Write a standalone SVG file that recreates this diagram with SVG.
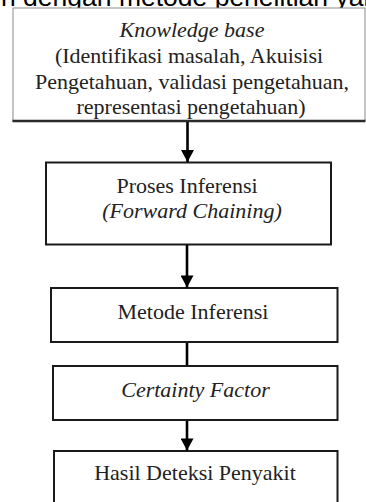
<svg xmlns="http://www.w3.org/2000/svg" width="366" height="502" viewBox="0 0 366 502">
<style>
.bg{fill:#fff}
.box{fill:#fff;stroke:#1a1a1a;stroke-width:2}
.t{font-family:"Liberation Serif","Times New Roman",serif;font-size:22px;fill:#222;text-anchor:middle}
.i{font-style:italic}
.hdr{font-family:"Liberation Sans",Arial,sans-serif;font-size:26.5px;fill:#000}
.conn{stroke:#000;stroke-width:2.6;fill:none}
</style>
<defs>
<marker id="ah" markerUnits="userSpaceOnUse" markerWidth="14" markerHeight="13" refX="7" refY="12.5" orient="auto" viewBox="0 0 14 13">
<path d="M0,0 L14,0 L7,13 Z" fill="#000" transform="rotate(-90 7 6.5) translate(0 0)"/>
</marker>
<marker id="ahd" markerUnits="userSpaceOnUse" markerWidth="14" markerHeight="13" refX="13" refY="7" orient="auto" viewBox="0 0 13 14">
<path d="M0,0 L13,7 L0,14 Z" fill="#000"/>
</marker>
</defs>
<rect class="bg" x="0" y="0" width="366" height="502"/>
<text class="hdr" x="1" y="5.5">n dengan metode penelitian yang</text>
<g id="node-knowledge">
<rect x="13" y="8" width="352" height="113" fill="#fff" stroke="#8a8a8a" stroke-width="1"/>
<line x1="12.5" y1="121" x2="365.5" y2="121" stroke="#2a2a2a" stroke-width="2.4"/>
<text class="t i" x="192" y="37">Knowledge base</text>
<text class="t" x="189" y="63">(Identifikasi masalah, Akuisisi</text>
<text class="t" x="192" y="89">Pengetahuan, validasi pengetahuan,</text>
<text class="t" x="191" y="114">representasi pengetahuan)</text>
</g>
<g id="node-proses">
<rect class="box" x="46" y="162.5" width="285" height="82"/>
<text class="t" x="187" y="193">Proses Inferensi</text>
<text class="t i" x="192" y="218">(Forward Chaining)</text>
</g>
<g id="node-metode">
<rect class="box" x="51" y="288" width="286.5" height="54"/>
<text class="t" x="193" y="319">Metode Inferensi</text>
</g>
<g id="node-cf">
<rect class="box" x="53" y="366" width="284.5" height="54"/>
<text class="t i" x="195.5" y="396.5">Certainty Factor</text>
</g>
<g id="node-hasil">
<rect class="box" x="54" y="451" width="283.5" height="70"/>
<text class="t" x="195" y="480">Hasil Deteksi Penyakit</text>
</g>
<g id="connectors">
<line class="conn" x1="187.5" y1="122" x2="187.5" y2="162" marker-end="url(#ahd)"/>
<line class="conn" x1="187" y1="245" x2="187" y2="287.5" marker-end="url(#ahd)"/>
<line class="conn" x1="187" y1="343" x2="187" y2="365"/>
<line class="conn" x1="187" y1="421" x2="187" y2="450.5" marker-end="url(#ahd)"/>
</g>
</svg>
